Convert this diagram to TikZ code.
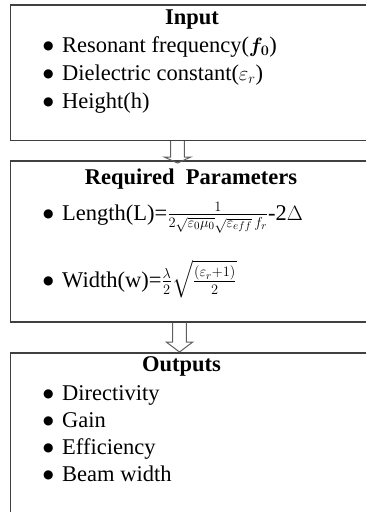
\documentclass[tikz,border=0pt]{standalone}
\usepackage{amsmath}
\usepackage{fontspec}
\setmainfont{Liberation Serif}
\newfontfamily\symfont{DejaVu Sans}
\usetikzlibrary{calc,positioning}

\definecolor{framegray}{RGB}{64,64,64}
\definecolor{arrowgray}{RGB}{95,95,95}

\tikzset{
  panel/.style={draw=framegray, line width=1.5pt, anchor=north west, inner sep=0pt, minimum width=370pt},
  heading/.style={font=\bfseries, anchor=base, inner sep=0pt},
  entry/.style={anchor=base west, inner sep=0pt},
  hollow/.style={draw=arrowgray, line width=1pt, line join=miter},
}
\newcommand{\bul}{\makebox[19pt][l]{\raisebox{3pt}{\fontsize{12}{12}\symfont ●}}}
% hollow block arrow: #1 start, #2 tip, #3 head length
\newcommand{\blockarrow}[3]{%
  \draw[hollow] let \p1=#1, \p2=#2 in
    (\x1-6.8pt,\y1) -- (\x1-6.8pt,\y2+#3) -- (\x1-13.3pt,\y2+#3) -- (\x2,\y2)
    -- (\x1+13.3pt,\y2+#3) -- (\x1+6.8pt,\y2+#3) -- (\x1+6.8pt,\y1);}

\begin{document}
\fontsize{22.5}{27}\selectfont
\begin{tikzpicture}[x=1pt, y=-1pt]
				\useasboundingbox (0,0) rectangle (366,512);
				\clip (0,0) rectangle (366,512);

				% Input box
				\node[panel, minimum height=135.5pt] (inputbox) at (9.5,4) {};
				\node[heading] (inputtitle) at (192,24) {Input};
				\node[entry] (in1) at (43,52) {\bul Resonant frequency($\boldsymbol{f_0}$)};
				\node[entry] (in2) at (43,80) {\bul Dielectric constant($\varepsilon_r$)};
				\node[entry] (in3) at (43,108) {\bul Height(h)};

				% Required parameters box
				\node[panel, minimum height=161pt] (parambox) at (9.5,160) {};
				\node[heading] (paramtitle) at (191,184) {Required\ \ Parameters};
				\node[entry] (par1) at (43,220) {\bul Length(L)=$\frac{1}{2\sqrt{\varepsilon_0\mu_0}\sqrt{\varepsilon_{eff}}\,f_r}$-2$\Delta$};
				\node[entry] (par2) at (43,287) {\bul Width(w)=$\frac{\lambda}{2}\sqrt{\frac{(\varepsilon_r+1)}{2}}$};

				% Outputs box
				\node[panel, minimum height=180pt] (outbox) at (9.5,352) {};
				\node[heading] (outtitle) at (181.5,371) {Outputs};
				\node[entry] (out1) at (43,400) {\bul Directivity};
				\node[entry] (out2) at (43,427) {\bul Gain};
				\node[entry] (out3) at (43,454) {\bul Efficiency};
				\node[entry] (out4) at (43,481) {\bul Beam width};

				% Arrows between the boxes
				\blockarrow{(inputbox.south -| 177.5,0)}{($(parambox.north -| 177.5,0)+(0,3)$)}{6pt}
				\blockarrow{(parambox.south -| 179.5,0)}{(outbox.north -| 179.5,0)}{10pt}
			\end{tikzpicture}
\end{document}
